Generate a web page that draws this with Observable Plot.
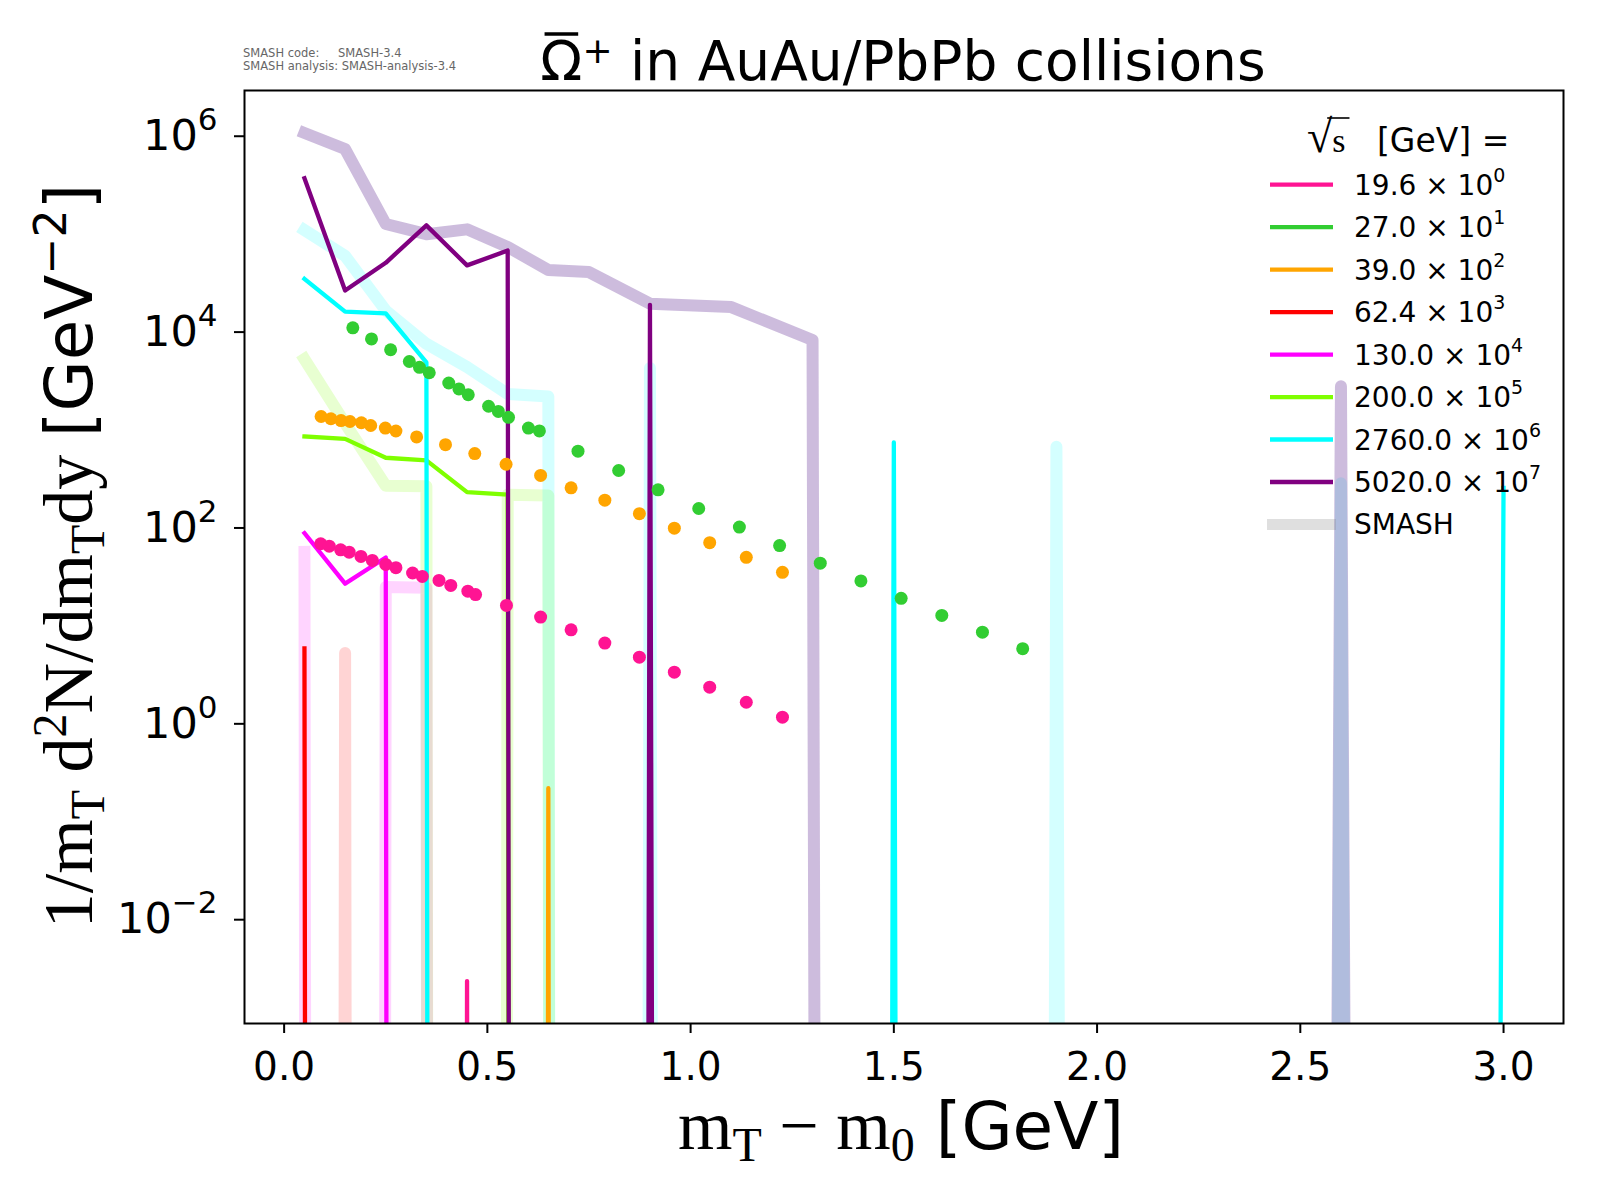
<!DOCTYPE html>
<html>
<head>
<meta charset="utf-8">
<script src="https://cdn.jsdelivr.net/npm/d3@7"></script>
<script src="https://cdn.jsdelivr.net/npm/@observablehq/plot@0.6"></script>
<style>
html, body { margin: 0; padding: 0; background: #fff; }
#chart { position: relative; width: 1600px; height: 1200px; }
text { white-space: pre; }
</style>
</head>
<body>
<div id="chart"></div>
<script>
// ---------------- data ----------------
const mtBins = [0.05, 0.15, 0.25, 0.35, 0.45, 0.55, 0.65, 0.75, 0.9, 1.1, 1.3, 1.5, 1.7, 1.9, 2.2, 2.6, 3.0];

const energies = ["19.6", "27.0", "39.0", "62.4", "130.0", "200.0", "2760.0", "5020.0"];
const exponents = [0, 1, 2, 3, 4, 5, 6, 7];
const energyColors = ["#ff1493", "#32cd32", "#ffa500", "#ff0000", "#ff00ff", "#7fff00", "#00ffff", "#800080"];

// thin lines (scaled values per mT bin, 0 = empty bin)
const line19_6 = [0, 0, 0, 0, 0.00236, 0, 0, 0, 0, 0, 0, 0, 0, 0, 0, 0, 0];
const line39_0 = [0, 0, 0, 0, 0, 0, 0.22, 0, 0, 0, 0, 0, 0, 0, 0, 0, 0];
const line62_4 = [5.9, 0, 0, 0, 0, 0, 0, 0, 0, 0, 0, 0, 0, 0, 0, 0, 0];
const line130 = [88.5, 27, 50, 0, 0, 0, 0, 0, 0, 0, 0, 0, 0, 0, 0, 0, 0];
const line200 = [860, 813, 521, 490, 232, 219, 0, 0, 0, 0, 0, 0, 0, 0, 0, 0, 0];
const line2760 = [35000, 16200, 15500, 4900, 0, 0, 0, 0, 0, 0, 0, 747, 0, 0, 0, 0, 257];
const line5020 = [372000, 26600, 51000, 123000, 48000, 68000, 0, 0, 19000, 0, 0, 0, 0, 0, 0, 0, 0];

// SMASH (thick, translucent)
const smash62_4 = [0, 5.3, 0, 0, 0, 0, 0, 0, 0, 0, 0, 0, 0, 0, 0, 0, 0];
const smash130 = [57, 0, 25, 24.5, 0, 0, 0, 0, 0, 0, 0, 0, 0, 0, 0, 0, 0];
const smash200 = [5300, 1170, 270, 267, 0, 219, 214, 0, 0, 0, 0, 0, 0, 0, 0, 0, 0];
const smash2760 = [110000, 60000, 16600, 7600, 4400, 2340, 2200, 0, 4300, 0, 0, 0, 0, 675, 0, 286, 0];
const smash5020 = [1080000, 740000, 127000, 100000, 112000, 74000, 43000, 41000, 19500, 18000, 8300, 0, 0, 0, 0, 2800, 0];

// measured points
const dots19_6x = [0.09, 0.111, 0.139, 0.16, 0.189, 0.217, 0.25, 0.275, 0.316, 0.34, 0.381, 0.41, 0.452, 0.471, 0.547, 0.631, 0.706, 0.789, 0.874, 0.96, 1.047, 1.137, 1.226];
const dots19_6y = [69.0, 65.2, 59.8, 56.6, 51.2, 46.6, 42.4, 39.3, 34.7, 32.0, 29.1, 25.9, 22.6, 20.9, 16.2, 12.3, 9.12, 6.67, 4.79, 3.37, 2.37, 1.66, 1.17];
const dots27x = [0.169, 0.215, 0.262, 0.308, 0.333, 0.357, 0.405, 0.43, 0.453, 0.503, 0.527, 0.552, 0.601, 0.628, 0.723, 0.823, 0.92, 1.02, 1.12, 1.219, 1.319, 1.419, 1.518, 1.618, 1.718, 1.817];
const dots27y = [11066, 8511, 6607, 5012, 4365, 3846, 3020, 2630, 2291, 1750, 1549, 1349, 1047, 980, 608, 386, 245, 158, 102, 66.1, 43.7, 28.8, 19.1, 12.8, 8.63, 5.85];
const dots39x = [0.091, 0.115, 0.14, 0.162, 0.19, 0.213, 0.249, 0.275, 0.326, 0.397, 0.469, 0.546, 0.631, 0.706, 0.789, 0.874, 0.96, 1.047, 1.137, 1.226];
const dots39y = [1374, 1303, 1250, 1222, 1186, 1112, 1047, 977, 851, 708, 575, 447, 344, 257, 192, 140, 99.5, 70.8, 50.1, 35.2];

const xTicks = [0, 0.5, 1.0, 1.5, 2.0, 2.5, 3.0];
const yTicks = [1e-2, 1, 1e2, 1e4, 1e6];

// ---------------- helpers ----------------
const FLOOR = 1e-300; // empty bins are drawn as matplotlib does with log clipping
const toRows = (values) => mtBins.map((x, i) => ({x, y: values[i] > 0 ? values[i] : FLOOR}));
const toPoints = (xs, ys) => xs.map((x, i) => ({x, y: ys[i]}));

const thinLines = [
  {values: line19_6, color: energyColors[0]},
  {values: line39_0, color: energyColors[2]},
  {values: line62_4, color: energyColors[3]},
  {values: line130, color: energyColors[4]},
  {values: line200, color: energyColors[5]},
  {values: line2760, color: energyColors[6]},
  {values: line5020, color: energyColors[7]}
];
const smashLines = [
  {values: smash62_4, color: energyColors[3], opacity: 0.17},
  {values: smash130, color: energyColors[4], opacity: 0.17},
  {values: smash200, color: energyColors[5], opacity: 0.18},
  {values: smash2760, color: energyColors[6], opacity: 0.17},
  {values: smash5020, color: "#663399", opacity: 0.33}
];
const dotSets = [
  {xs: dots19_6x, ys: dots19_6y, color: energyColors[0]},
  {xs: dots27x, ys: dots27y, color: energyColors[1]},
  {xs: dots39x, ys: dots39y, color: energyColors[2]}
];

const marks = [];
for (const s of smashLines) {
  marks.push(Plot.line(toRows(s.values), {x: "x", y: "y", stroke: s.color, strokeOpacity: s.opacity,
    strokeWidth: 12, strokeLinejoin: "round", strokeLinecap: "square", clip: true}));
}
for (const s of thinLines) {
  marks.push(Plot.line(toRows(s.values), {x: "x", y: "y", stroke: s.color,
    strokeWidth: 4.3, strokeLinejoin: "round", strokeLinecap: "square", clip: true}));
}
for (const s of dotSets) {
  marks.push(Plot.dot(toPoints(s.xs, s.ys), {x: "x", y: "y", r: 6.5, fill: s.color, stroke: "none", clip: true}));
}
marks.push(Plot.frame({stroke: "black", strokeWidth: 2}));
marks.push(Plot.axisX({ticks: xTicks, tickFormat: d3.format(".1f"), tickSize: 10, tickPadding: 19,
  fontSize: 39, strokeWidth: 2, label: null, fill: "black"}));
marks.push(Plot.axisY({ticks: yTicks, tickFormat: d => "10^" + Math.round(Math.log10(d)), tickSize: 10, tickPadding: 17,
  fontSize: 43, strokeWidth: 2, label: null, fill: "black"}));

const chart = Plot.plot({
  width: 1600, height: 1200,
  marginLeft: 244, marginRight: 37, marginTop: 90, marginBottom: 177,
  x: {domain: [-0.0975, 3.1475]},
  y: {type: "log", domain: [Math.pow(10, -3.06), Math.pow(10, 6.467)]},
  style: {fontFamily: "DejaVu Sans", background: "white", color: "black", overflow: "visible"},
  marks
});
document.getElementById("chart").appendChild(chart);

const svg = d3.select(chart);
const SANS = "DejaVu Sans";
const SERIF = "Liberation Serif";

// superscripts on the log tick labels
svg.selectAll('g[aria-label="y-axis tick label"] text').each(function() {
  const t = d3.select(this);
  const s = t.text();
  const e = s.split("^")[1].replace("-", "\u2212");
  t.text("10");
  t.append("tspan").attr("font-size", 31).attr("dy", -20).text(e);
});

function richText(parent, x, y, parts, anchor = "start", rotate = 0) {
  const t = parent.append("text")
    .attr("text-anchor", anchor)
    .attr("transform", `translate(${x},${y}) rotate(${rotate})`)
    .attr("fill", "black");
  for (const p of parts) {
    t.append("tspan").attr("font-family", p.f).attr("font-size", p.s).attr("dy", p.dy || 0).text(p.t);
  }
  return t;
}

const g = svg.append("g").attr("text-anchor", "start");

// header
const hdr = (x, y, s) => g.append("text").attr("x", x).attr("y", y).attr("text-anchor", "start")
  .attr("font-family", SANS).attr("font-size", 11.5).attr("fill", "#666").text(s);
hdr(243, 57, "SMASH code:");
hdr(338, 57, "SMASH-3.4");
hdr(243, 70, "SMASH analysis: SMASH-analysis-3.4");

// title
const TX = 903, TY = 80;
const title = richText(g, TX, TY, [
  {t: "\u03A9", f: SANS, s: 55},
  {t: "+", f: SANS, s: 36, dy: -17},
  {t: " in AuAu/PbPb collisions", f: SANS, s: 55, dy: 17}
], "middle");
{
  const ext = title.node().getExtentOfChar(0);
  g.append("line").attr("x1", TX + ext.x + ext.width * 0.1).attr("x2", TX + ext.x + ext.width * 0.9)
    .attr("y1", TY - 46).attr("y2", TY - 46).attr("stroke", "black").attr("stroke-width", 3.5);
}

// x label
richText(g, 901, 1149, [
  {t: "m", f: SERIF, s: 70},
  {t: "T", f: SERIF, s: 48, dy: 12},
  {t: " \u2212 m", f: SERIF, s: 70, dy: -12},
  {t: "0", f: SERIF, s: 48, dy: 12},
  {t: " [GeV]", f: SANS, s: 66, dy: -12}
], "middle");

// y label
richText(g, 92, 556, [
  {t: "1/m", f: SERIF, s: 70},
  {t: "T", f: SERIF, s: 48, dy: 12},
  {t: " d", f: SERIF, s: 70, dy: -12},
  {t: "2", f: SERIF, s: 48, dy: -26},
  {t: "N/dm", f: SERIF, s: 70, dy: 26},
  {t: "T", f: SERIF, s: 48, dy: 12},
  {t: "dy ", f: SERIF, s: 70, dy: -12},
  {t: "[GeV", f: SANS, s: 66},
  {t: "\u22122", f: SANS, s: 44, dy: -26},
  {t: "]", f: SANS, s: 66, dy: 26}
], "middle", -90);

// legend
const legendRows = energies.map((e, i) => ({label: e, exp: exponents[i], color: energyColors[i]}));
const rowY0 = 184.7, rowStep = 42.47;
const LX = 1307, LY = 152;
const lt = richText(g, LX, LY, [
  {t: "\u221A", f: SERIF, s: 46},
  {t: "s", f: SERIF, s: 34},
  {t: "   [GeV] =", f: SANS, s: 33}
]);
{
  const e0 = lt.node().getExtentOfChar(0);
  const e1 = lt.node().getExtentOfChar(1);
  g.append("line").attr("x1", LX + e0.x + e0.width * 0.8).attr("x2", LX + e1.x + e1.width + 4)
    .attr("y1", LY - 34).attr("y2", LY - 34).attr("stroke", "black").attr("stroke-width", 1.6);
}
legendRows.forEach((r, i) => {
  const y = rowY0 + rowStep * i;
  g.append("line").attr("x1", 1270).attr("x2", 1333).attr("y1", y).attr("y2", y)
    .attr("stroke", r.color).attr("stroke-width", 4.3);
  richText(g, 1354, y + 10, [
    {t: r.label + " \u00D7 10", f: SANS, s: 28},
    {t: String(r.exp), f: SANS, s: 19, dy: -13}
  ]);
});
{
  const y = rowY0 + rowStep * legendRows.length;
  g.append("line").attr("x1", 1267).attr("x2", 1336).attr("y1", y).attr("y2", y)
    .attr("stroke", "#808080").attr("stroke-opacity", 0.25).attr("stroke-width", 11);
  richText(g, 1354, y + 10, [{t: "SMASH", f: SANS, s: 28}]);
}
</script>
</body>
</html>
